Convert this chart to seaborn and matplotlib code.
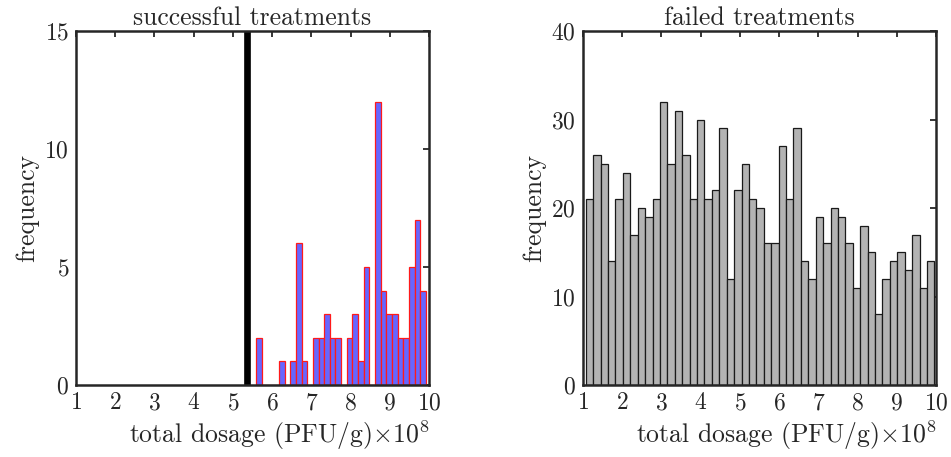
import numpy as np
import pandas as pd
import seaborn as sns
import matplotlib
matplotlib.use("Agg")
import matplotlib.pyplot as plt

# ---------------- data ----------------
success_counts = [2, 0, 0, 0, 1, 0, 1, 6, 1, 0, 2, 2, 3, 2, 2, 0,
                  2, 3, 1, 5, 0, 12, 4, 3, 3, 2, 2, 5, 7, 4]
success_range = (5.60, 9.92)

failed_counts = [21, 26, 25, 14, 21, 24, 17, 20, 19, 21, 32, 25, 31, 26, 21, 30,
                 21, 22, 29, 12, 22, 25, 21, 20, 16, 16, 27, 21, 29, 14, 12, 19,
                 16, 20, 19, 16, 11, 18, 15, 8, 12, 14, 15, 13, 17, 11, 14]
failed_range = (1.07, 9.96)

threshold = 5.35

x_ticks = [1, 2, 3, 4, 5, 6, 7, 8, 9, 10]
left_yticks = [0, 5, 10, 15]
right_yticks = [0, 10, 20, 30, 40]

# ---------------- style ----------------
sns.set_style("white")
plt.rcParams["font.family"] = ["serif"]
plt.rcParams["font.serif"] = ["cmr10", "DejaVu Serif"]
plt.rcParams["mathtext.fontset"] = "cm"
plt.rcParams["axes.formatter.use_mathtext"] = True

fig = plt.figure(figsize=(9.51, 4.57), dpi=100)
axL = fig.add_axes([76 / 951, 1 - 385 / 457, 353 / 951, 354 / 457])
axR = fig.add_axes([583 / 951, 1 - 385 / 457, 353 / 951, 354 / 457])


def make_df(counts, rng):
    n = len(counts)
    edges = np.linspace(rng[0], rng[1], n + 1)
    centers = (edges[:-1] + edges[1:]) / 2
    return pd.DataFrame({"x": centers, "w": np.asarray(counts, float)}), [float(e) for e in edges]


dfL, edgesL = make_df(success_counts, success_range)
dfR, edgesR = make_df(failed_counts, failed_range)

sns.histplot(data=dfL, x="x", weights="w", bins=edgesL, ax=axL,
             color=(0.4, 0.4, 1.0), alpha=1.0, edgecolor=(1.0, 0.1, 0.1),
             linewidth=0.9)
axL.axvline(threshold, color="black", linewidth=4.8, zorder=5)

sns.histplot(data=dfR, x="x", weights="w", bins=edgesR, ax=axR,
             color=(0.70, 0.70, 0.70), alpha=1.0, edgecolor=(0.1, 0.1, 0.1),
             linewidth=0.9)

for ax, yt, title in [(axL, left_yticks, "successful treatments"),
                      (axR, right_yticks, "failed treatments")]:
    ax.set_xlim(1, 10)
    ax.set_ylim(yt[0], yt[-1])
    ax.set_xticks(x_ticks)
    ax.set_yticks(yt)
    ax.set_title(title, fontsize=18.5, pad=4)
    ax.set_xlabel(r"total dosage (PFU/g)$\times10^8$", fontsize=18.5)
    ax.xaxis.set_label_coords(0.575, -0.095)
    ax.set_ylabel("frequency", fontsize=18.5, labelpad=4)
    ax.tick_params(axis="both", direction="in", length=4, width=1.3,
                   top=True, right=True, labelsize=17, color="#262626",
                   pad=5)
    for s in ax.spines.values():
        s.set_visible(True)
        s.set_color("#262626")
        s.set_linewidth(1.8)
        s.set_zorder(6)

fig.savefig("out.png", dpi=100)
